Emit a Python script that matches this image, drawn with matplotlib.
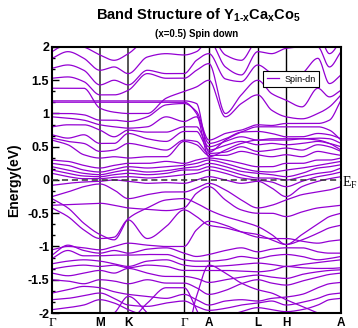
import numpy as np
import matplotlib
matplotlib.use("Agg")
import matplotlib.pyplot as plt
from matplotlib.ticker import MultipleLocator, AutoMinorLocator

plt.rcParams["mathtext.fontset"] = "custom"
plt.rcParams["mathtext.rm"] = "Liberation Sans:bold"
plt.rcParams["mathtext.it"] = "Liberation Sans:bold"
plt.rcParams["mathtext.bf"] = "Liberation Sans:bold"

# ---------------- data ----------------
k_nodes = [0.0, 0.166, 0.264, 0.457, 0.543, 0.712, 0.81, 1.0]
k_labels = ["Γ", "M", "K", "Γ", "A", "L", "H", "A"]
k_samples = [0.0, 0.055, 0.11, 0.166, 0.215, 0.264, 0.33, 0.395, 0.457, 0.5,
             0.543, 0.6, 0.655, 0.712, 0.76, 0.81, 0.865, 0.92, 0.96, 1.0]

# low-lying bands (each list = energies at k_samples)
bands_low = [
    [-1.95, -1.92, -1.88, -1.80, -1.85, -1.95, -2.05, -2.10, -2.05, -2.10, -2.10, -2.05, -1.98, -1.92, -1.95, -1.98, -1.95, -1.88, -1.80, -1.78],
    [-1.80, -1.78, -1.74, -1.70, -1.78, -1.88, -1.90, -1.85, -1.82, -1.90, -1.96, -1.93, -1.88, -1.85, -1.82, -1.88, -1.84, -1.78, -1.72, -1.70],
    [-1.70, -1.65, -1.60, -1.62, -1.68, -1.72, -1.75, -1.78, -1.72, -1.80, -1.88, -1.82, -1.80, -1.82, -1.78, -1.76, -1.72, -1.62, -1.56, -1.54],
    [-1.50, -1.52, -1.56, -1.50, -1.52, -1.56, -1.50, -1.55, -1.55, -1.62, -1.72, -1.66, -1.56, -1.50, -1.55, -1.58, -1.52, -1.46, -1.42, -1.40],
    [-1.40, -1.44, -1.40, -1.36, -1.40, -1.33, -1.40, -1.45, -1.45, -1.48, -1.54, -1.50, -1.46, -1.43, -1.46, -1.48, -1.42, -1.38, -1.36, -1.35],
    [-1.34, -1.30, -1.28, -1.30, -1.28, -1.32, -1.28, -1.30, -1.36, -1.36, -1.36, -1.36, -1.37, -1.38, -1.36, -1.30, -1.32, -1.33, -1.33, -1.32],
    [-1.26, -1.22, -1.20, -1.22, -1.26, -1.30, -1.22, -1.20, -1.28, -1.30, -1.30, -1.29, -1.27, -1.25, -1.27, -1.30, -1.27, -1.24, -1.22, -1.20],
    [-1.18, -1.06, -1.14, -1.14, -1.13, -1.13, -1.12, -1.12, -1.20, -1.22, -1.22, -1.20, -1.15, -1.18, -1.14, -1.12, -1.15, -1.20, -1.18, -1.15],
    [-1.13, -0.98, -1.06, -1.10, -1.06, -1.10, -1.04, -1.02, -1.10, -1.15, -1.12, -1.06, -1.02, -1.08, -1.04, -1.02, -1.02, -1.08, -1.10, -1.10],
    # steep bands near Gamma-A
    [-2.40, -2.30, -2.20, -2.10, -2.00, -1.75, -2.00, -2.30, -2.40, -1.75, -1.28, -1.40, -1.55, -1.65, -1.70, -1.80, -1.90, -2.00, -2.10, -2.15],
    [-2.40, -2.30, -2.20, -2.10, -2.10, -2.10, -1.85, -1.62, -1.62, -1.95, -2.30, -2.30, -2.20, -2.10, -2.05, -2.10, -2.20, -2.20, -2.10, -2.00],
]

# bands between -1 eV and the Fermi level
bands_mid = [
    [-1.05, -1.00, -1.02, -1.05, -1.00, -0.95, -0.98, -1.00, -1.00, -0.75, -0.62, -0.68, -0.78, -0.86, -0.88, -0.88, -0.92, -0.95, -0.92, -0.90],
    [-0.42, -0.55, -0.75, -0.88, -0.86, -0.60, -0.88, -0.70, -0.45, -0.55, -0.68, -0.72, -0.78, -0.82, -0.90, -0.97, -0.90, -0.80, -0.72, -0.68],
    [-0.28, -0.42, -0.65, -0.82, -0.90, -0.58, -0.42, -0.30, -0.28, -0.35, -0.45, -0.55, -0.62, -0.70, -0.82, -0.97, -0.82, -0.66, -0.55, -0.50],
    [-0.38, -0.37, -0.36, -0.35, -0.38, -0.42, -0.44, -0.46, -0.42, -0.20, -0.10, -0.30, -0.45, -0.50, -0.50, -0.55, -0.48, -0.42, -0.40, -0.38],
    [-0.25, -0.18, -0.10, -0.06, -0.15, -0.28, -0.22, -0.18, -0.18, -0.12, -0.05, -0.15, -0.30, -0.42, -0.38, -0.30, -0.22, -0.18, -0.15, -0.10],
]

# bands around E_F: one row per k sample, sorted energies
fermi_rows = [
    [-0.08, 0.10, 0.15, 0.20, 0.25, 0.30],
    [-0.05, 0.05, 0.10, 0.15, 0.22, 0.28],
    [-0.03, 0.02, 0.06, 0.10, 0.15, 0.22],
    [-0.02, 0.02, 0.05, 0.08, 0.12, 0.18],
    [0.00, 0.04, 0.08, 0.12, 0.16, 0.22],
    [-0.02, 0.05, 0.10, 0.15, 0.20, 0.25],
    [-0.05, 0.03, 0.08, 0.12, 0.18, 0.25],
    [-0.04, 0.05, 0.10, 0.14, 0.20, 0.28],
    [-0.05, 0.08, 0.15, 0.18, 0.22, 0.25],
    [0.00, 0.10, 0.15, 0.20, 0.25, 0.30],
    [0.05, 0.15, 0.20, 0.25, 0.30, 0.33],
    [0.00, 0.10, 0.15, 0.20, 0.25, 0.30],
    [-0.05, 0.03, 0.08, 0.13, 0.18, 0.25],
    [-0.02, 0.00, 0.03, 0.10, 0.13, 0.20],
    [-0.12, -0.03, 0.03, 0.08, 0.12, 0.20],
    [-0.25, -0.10, 0.00, 0.05, 0.15, 0.25],
    [-0.10, -0.02, 0.05, 0.10, 0.18, 0.25],
    [-0.02, 0.05, 0.10, 0.18, 0.22, 0.30],
    [0.02, 0.08, 0.12, 0.20, 0.25, 0.30],
    [0.05, 0.12, 0.18, 0.23, 0.28, 0.33],
]

# nearly flat bands at ~1.2 eV
bands_flat = [
    [1.19, 1.19, 1.19, 1.19, 1.19, 1.19, 1.19, 1.19, 1.19, 1.15, 0.42, 0.60, 0.72, 0.80, 0.80, 0.80, 0.80, 0.80, 0.75, 0.60],
    [1.17, 1.17, 1.17, 1.17, 1.17, 1.17, 1.17, 1.17, 1.17, 1.00, 0.35, 0.45, 0.55, 0.60, 0.60, 0.60, 0.62, 0.60, 0.55, 0.45],
]

# upper bands: one row per k sample, sorted energies
upper_rows = [
    [0.60, 0.63, 0.68, 0.80, 0.95, 1.00, 1.38, 1.53, 1.68, 1.83, 1.93, 2.10],
    [0.53, 0.58, 0.63, 0.83, 0.93, 1.00, 1.38, 1.55, 1.73, 1.93, 2.05, 2.20],
    [0.38, 0.55, 0.68, 0.83, 0.90, 0.98, 1.38, 1.48, 1.65, 1.83, 2.00, 2.20],
    [0.33, 0.43, 0.55, 0.75, 0.83, 0.90, 1.08, 1.28, 1.43, 1.65, 1.88, 2.05],
    [0.35, 0.45, 0.55, 0.65, 0.80, 0.90, 1.02, 1.28, 1.50, 1.70, 1.80, 2.10],
    [0.33, 0.55, 0.70, 0.75, 0.78, 0.88, 1.00, 1.35, 1.43, 1.60, 1.90, 2.20],
    [0.35, 0.50, 0.62, 0.72, 0.80, 0.95, 1.00, 1.60, 1.65, 1.85, 2.10, 2.30],
    [0.35, 0.45, 0.58, 0.72, 0.95, 1.13, 1.23, 1.53, 1.60, 1.90, 2.10, 2.30],
    [0.58, 0.60, 0.73, 0.80, 0.88, 1.15, 1.33, 1.53, 1.60, 1.88, 2.10, 2.30],
    [0.53, 0.58, 0.73, 0.80, 0.95, 1.03, 1.40, 1.65, 1.80, 1.93, 2.10, 2.30],
    [0.37, 0.40, 0.45, 0.50, 0.55, 0.60, 1.50, 1.75, 1.90, 2.10, 2.20, 2.40],
    [0.37, 0.42, 0.52, 0.58, 0.62, 0.70, 0.95, 1.00, 1.52, 1.70, 1.88, 2.10],
    [0.43, 0.50, 0.58, 0.65, 0.72, 0.75, 1.15, 1.28, 1.48, 1.58, 1.80, 2.00],
    [0.38, 0.43, 0.53, 0.60, 0.73, 0.83, 1.28, 1.50, 1.73, 1.93, 2.10, 2.30],
    [0.35, 0.45, 0.55, 0.62, 0.70, 0.82, 1.05, 1.30, 1.60, 1.90, 2.10, 2.30],
    [0.38, 0.48, 0.53, 0.62, 0.65, 0.85, 0.95, 1.20, 1.50, 1.98, 2.10, 2.30],
    [0.35, 0.45, 0.55, 0.62, 0.65, 0.85, 0.92, 1.10, 1.60, 2.00, 2.10, 2.30],
    [0.43, 0.53, 0.58, 0.63, 0.70, 0.85, 1.00, 1.38, 1.83, 2.00, 2.20, 2.40],
    [0.40, 0.50, 0.55, 0.62, 0.68, 0.90, 1.10, 1.25, 1.45, 1.70, 1.90, 2.10],
    [0.37, 0.43, 0.50, 0.55, 0.62, 1.20, 1.28, 1.35, 1.58, 1.93, 2.10, 2.30],
]

series_label = "Spin-dn"
title_text = r"Band Structure of Y$_{\text{1-x}}$Ca$_{\text{x}}$Co$_{\text{5}}$"
subtitle_text = "(x=0.5) Spin down"


# ---------------- helpers ----------------
def pchip(x, y, xs):
    x = np.asarray(x, float)
    y = np.asarray(y, float)
    h = np.diff(x)
    d = np.diff(y) / h
    n = len(x)
    m = np.zeros(n)
    for i in range(1, n - 1):
        if d[i - 1] * d[i] > 0:
            w1 = 2 * h[i] + h[i - 1]
            w2 = h[i] + 2 * h[i - 1]
            m[i] = (w1 + w2) / (w1 / d[i - 1] + w2 / d[i])
    m[0] = d[0]
    m[-1] = d[-1]
    idx = np.clip(np.searchsorted(x, xs) - 1, 0, n - 2)
    t = (xs - x[idx]) / h[idx]
    h00 = 2 * t**3 - 3 * t**2 + 1
    h10 = t**3 - 2 * t**2 + t
    h01 = -2 * t**3 + 3 * t**2
    h11 = t**3 - t**2
    return h00 * y[idx] + h10 * h[idx] * m[idx] + h01 * y[idx + 1] + h11 * h[idx] * m[idx + 1]


all_bands = (list(bands_low) + list(bands_mid) + list(np.array(fermi_rows).T)
             + list(bands_flat) + list(np.array(upper_rows).T))

# ---------------- figure ----------------
fig = plt.figure(figsize=(3.58, 3.28), dpi=100)
ax = fig.add_axes([52 / 358, 1 - 313 / 328, 289 / 358, 266 / 328])

color = "#9400D3"
kf = np.linspace(0, 1, 900)
for i, b in enumerate(all_bands):
    ax.plot(kf, pchip(k_samples, b, kf), color=color, lw=0.9,
            label=series_label if i == 0 else None, zorder=2)

# high symmetry lines
for kx, lab in zip(k_nodes[1:-1], k_labels[1:-1]):
    if lab in ("M", "K"):
        ax.axvline(kx, color="#555555", lw=1.4, zorder=1)
    else:
        ax.axvline(kx, color="black", lw=1.0, zorder=1)

# Fermi level
ax.axhline(0, color="#333333", lw=1.1, ls=(0, (4, 2.5)), zorder=3)
ax.text(1.003, -0.04, "E$_\\mathregular{F}$", transform=ax.get_yaxis_transform(),
        family="Liberation Serif", fontsize=10, va="center", ha="left")

ax.set_xlim(0, 1)
ax.set_ylim(-2, 2)
ax.set_xticks(k_nodes)
ax.set_xticklabels(k_labels)
for t in ax.get_xticklabels():
    if t.get_text() == "Γ":
        t.set_family("Liberation Serif")
        t.set_fontsize(9.5)
        t.set_fontweight("normal")
    else:
        t.set_family("Liberation Sans")
        t.set_fontsize(8.5)
        t.set_fontweight("bold")
ax.tick_params(axis="x", length=0, pad=3)

ax.yaxis.set_major_locator(MultipleLocator(0.5))
ax.yaxis.set_minor_locator(AutoMinorLocator(3))
ax.yaxis.set_major_formatter(plt.FuncFormatter(lambda v, p: f"{v:g}"))
ax.tick_params(axis="y", which="major", direction="in", length=5, width=1, pad=2)
ax.tick_params(axis="y", which="minor", direction="in", length=2.5, width=1)
for t in ax.get_yticklabels():
    t.set_family("Liberation Sans")
    t.set_fontweight("bold")
    t.set_fontsize(9)

for s in ax.spines.values():
    s.set_linewidth(1.5)
    s.set_color("black")

ax.set_ylabel("Energy(eV)", family="Liberation Sans", fontweight="bold",
              fontsize=10, labelpad=5)

fig.text(198 / 358, 1 - 15 / 328, title_text, family="Liberation Sans",
         fontweight="bold", fontsize=10.5, ha="center", va="center")
fig.text(197 / 358, 1 - 34 / 328, subtitle_text, family="Liberation Sans",
         fontweight="bold", fontsize=7, ha="center", va="center")

leg = ax.legend(loc="upper left", bbox_to_anchor=(0.73, 0.91), frameon=True,
                fancybox=False, edgecolor="black", framealpha=1,
                prop={"family": "Liberation Sans", "size": 6.5},
                handlelength=1.4, borderpad=0.4, handletextpad=0.6,
                borderaxespad=0)
leg.get_frame().set_linewidth(0.8)

fig.savefig("out.png", dpi=100)
